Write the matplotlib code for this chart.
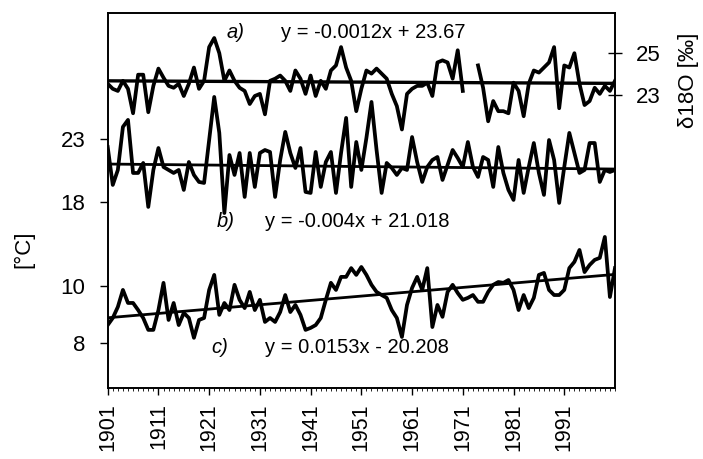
import numpy as np
import matplotlib
matplotlib.use('Agg')
import matplotlib.pyplot as plt
from matplotlib.ticker import MultipleLocator

plt.rcParams['font.family'] = ['Liberation Sans', 'DejaVu Sans']

years = np.arange(1901, 2002)

# a) d18O [permil], gap 1972-1973
d18o = [23.53, 23.29, 23.19, 23.67, 23.29, 22.13, 23.96, 23.96, 22.18, 23.43,
        24.25, 23.82, 23.43, 23.34, 23.53, 22.95, 23.53, 24.30, 23.29, 23.67,
        25.27, 25.70, 24.98, 23.67, 24.16, 23.67, 23.34, 23.19, 22.57, 22.95,
        23.05, 22.08, 23.67, 23.77, 23.92, 23.67, 23.19, 24.16, 23.77, 23.05,
        23.92, 22.95, 23.67, 23.29, 24.16, 24.40, 25.27, 24.30, 23.67, 22.23,
        23.29, 24.16, 24.01, 24.25, 24.01, 23.77, 23.05, 22.47, 21.36, 23.05,
        23.29, 23.43, 23.43, 23.58, 22.95, 24.54, 24.64, 24.54, 23.77, 25.12,
        23.19, np.nan, np.nan, 24.40, 23.34, 21.75, 22.71, 22.23, 22.23, 22.13,
        23.58, 23.19, 21.99, 23.53, 24.16, 24.06, 24.30, 24.54, 25.27, 22.37,
        24.40, 24.30, 24.98, 23.53, 22.52, 22.71, 23.34, 23.05, 23.43, 23.19,
        23.67]

# b) temperature [C]
temp_b = [22.38, 19.34, 20.54, 23.99, 24.55, 20.30, 20.30, 21.10, 17.58, 20.54,
          22.30, 20.78, 20.54, 20.30, 20.54, 18.94, 21.18, 20.14, 19.58, 19.50,
          22.94, 26.39, 23.51, 17.09, 21.74, 20.14, 21.90, 18.38, 21.90, 19.18,
          21.90, 22.14, 21.98, 18.38, 21.34, 23.59, 21.90, 20.70, 22.30, 18.78,
          18.70, 21.98, 19.18, 21.18, 21.98, 18.70, 21.90, 24.71, 19.18, 22.78,
          20.54, 23.11, 25.99, 22.14, 18.70, 21.10, 20.70, 20.14, 20.70, 20.54,
          23.18, 21.18, 19.58, 20.78, 21.34, 21.58, 19.74, 20.94, 22.14, 21.50,
          20.78, 22.78, 20.78, 19.98, 21.58, 21.34, 19.18, 22.38, 20.30, 18.94,
          18.14, 21.34, 18.70, 20.78, 22.70, 20.30, 18.54, 22.94, 21.34, 17.90,
          20.78, 23.51, 21.90, 20.30, 20.54, 22.70, 22.70, 19.58, 20.54, 20.38,
          20.54]

# c) temperature [C]
temp_c = [8.62, 8.87, 9.26, 9.86, 9.40, 9.40, 9.15, 8.87, 8.45, 8.45,
          9.15, 10.11, 8.80, 9.40, 8.62, 9.05, 8.87, 8.17, 8.80, 8.87,
          9.86, 10.39, 8.98, 9.40, 9.15, 10.04, 9.51, 9.22, 9.79, 9.15,
          9.51, 8.73, 8.87, 8.73, 9.08, 9.68, 9.08, 9.33, 8.98, 8.45,
          8.52, 8.62, 8.87, 9.51, 10.11, 9.86, 10.32, 10.32, 10.63, 10.39,
          10.67, 10.39, 10.04, 9.79, 9.68, 9.58, 9.15, 8.87, 8.20, 9.33,
          9.93, 10.32, 9.86, 10.63, 8.55, 9.33, 8.91, 9.79, 10.04, 9.75,
          9.51, 9.58, 9.68, 9.44, 9.44, 9.79, 10.04, 10.14, 10.11, 10.21,
          9.86, 9.15, 9.68, 9.22, 9.58, 10.39, 10.46, 9.86, 9.68, 9.68,
          9.86, 10.63, 10.85, 11.27, 10.49, 10.74, 10.92, 10.99, 11.73, 9.61,
          10.63]

# trend equations as printed
eq_a = (-0.0012, 23.67)
eq_b = (-0.004, 21.018)
eq_c = (0.0153, -20.208)

idx = np.arange(1, len(years) + 1)
fit_a = eq_a[0] * idx + eq_a[1]
fit_b = eq_b[0] * idx + eq_b[1]
fit_c = eq_c[0] * years + eq_c[1]

fig = plt.figure(figsize=(7.03, 4.59), dpi=100)
rect = [0.1532, 0.1547, 0.7216, 0.8176]
ax = fig.add_axes(rect)
axb = fig.add_axes(rect, sharex=ax)
axa = fig.add_axes(rect, sharex=ax)

lw = 2.7
ax.plot(years, temp_c, color='black', lw=lw)
ax.plot(years, fit_c, color='black', lw=2.0)
axb.plot(years, temp_b, color='black', lw=lw)
axb.plot(years, fit_b, color='black', lw=2.0)
axa.plot(years, d18o, color='black', lw=lw)
axa.plot(years, fit_a, color='black', lw=2.4)

ax.set_xlim(1901, 2001)
ax.set_ylim(6.40, 19.64)
axb.set_ylim(3.07, 33.14)
axa.set_ylim(9.1, 26.9)

# main axes: bottom + left (c)
ax.set_xticks(np.arange(1901, 2000, 10))
ax.set_xticklabels([str(y) for y in range(1901, 2000, 10)], rotation=90)
ax.xaxis.set_minor_locator(MultipleLocator(1))
ax.set_yticks([8, 10])
ax.tick_params(axis='x', which='major', direction='out', length=5, width=1, labelsize=15.5, pad=6)
ax.tick_params(axis='x', which='minor', direction='out', length=2, width=0.6)
ax.tick_params(axis='y', direction='out', length=6, width=1, labelsize=16, pad=10)
for s in ax.spines.values():
    s.set_linewidth(1.4)
ax.set_ylabel('[°C]', fontsize=16)
ax.yaxis.set_label_coords(-0.145, 0.37)

# b axes: left ticks only
for axx in (axb, axa):
    axx.patch.set_visible(False)
    for s in axx.spines.values():
        s.set_visible(False)
    axx.tick_params(axis='x', which='both', bottom=False, labelbottom=False)
axb.set_yticks([18, 23])
axb.tick_params(axis='y', direction='out', length=6, width=1, labelsize=16, pad=10)

# a axes: right ticks
axa.yaxis.tick_right()
axa.yaxis.set_label_position('right')
axa.set_yticks([23, 25])
axa.tick_params(axis='y', direction='inout', length=10, width=1, labelsize=16, pad=10)
axa.set_ylabel('δ18O [‰]', fontsize=16)
axa.yaxis.set_label_coords(1.125, 0.82)

# equation labels
fig.text(0.322, 0.917, 'a)', fontsize=14.5, style='italic')
fig.text(0.400, 0.917, 'y = -0.0012x + 23.67', fontsize=14.5)
fig.text(0.308, 0.505, 'b)', fontsize=14.5, style='italic')
fig.text(0.377, 0.505, 'y = -0.004x + 21.018', fontsize=14.5)
fig.text(0.300, 0.230, 'c)', fontsize=14.5, style='italic')
fig.text(0.377, 0.230, 'y = 0.0153x - 20.208', fontsize=14.5)

fig.savefig('out.png', dpi=100)
